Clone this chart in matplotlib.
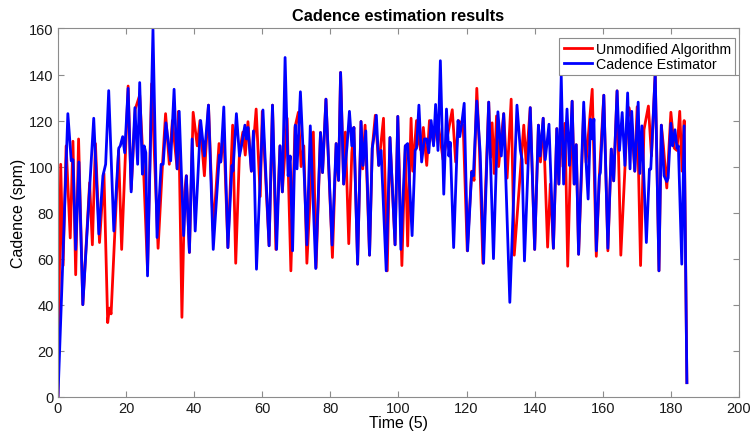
import matplotlib
matplotlib.use('Agg')
from matplotlib import pyplot as plt

plt.rcParams['font.family'] = ['Liberation Sans', 'DejaVu Sans']

# Cadence estimator (blue)
t_est = [0, 1.3, 2.9, 3.9, 4.4, 5.2, 6.15, 7.3, 10.5, 12.0, 13.2, 14.0, 14.9, 16.4, 17.85,
         18.3, 19.0, 19.6, 20.6, 21.5, 22.6, 23.4, 24.0, 24.8, 25.3, 25.8, 26.3, 27.9, 29.1,
         30.3, 30.9, 31.7, 33.1, 34.1, 35.0, 35.6, 36.9, 37.7, 38.6, 39.4, 40.3, 41.9, 43.0,
         44.2, 45.6, 47.4, 47.8, 48.7, 49.9, 51.1, 51.4, 52.4, 53.3, 53.9, 54.9, 55.3, 55.8,
         56.8, 57.4, 58.3, 60.2, 62.0, 63.0, 64.2, 65.2, 65.9, 66.7, 67.6, 68.2, 68.9, 69.7,
         70.2, 71.2, 72.4, 73.1, 74.1, 75.7, 77.1, 77.7, 78.7, 80.5, 81.7, 82.4, 83.0, 83.9,
         84.9, 85.6, 86.3, 86.9, 88.0, 89.0, 89.6, 90.4, 91.5, 92.3, 92.9, 93.5, 94.2, 94.9,
         96.4, 97.5, 99.0, 99.8, 100.7, 102.0, 102.7, 104.0, 104.9, 105.3, 106.0, 106.8, 107.6,
         108.3, 108.9, 109.6, 110.3, 110.9, 111.6, 112.3, 113.3, 114.1, 114.8, 115.2, 116.2,
         117.5, 118.0, 118.6, 119.3, 120.3, 121.5, 122.0, 123.0, 124.0, 125.0, 126.5, 127.9,
         129.2, 130.2, 130.9, 132.7, 134.8, 135.8, 136.3, 137.0, 138.7, 140.0, 141.1, 141.6,
         142.5, 143.1, 144.2, 145.5, 146.5, 147.1, 147.8, 148.5, 149.5, 150.2, 151.0, 151.6,
         152.2, 152.9, 154.4, 155.1, 155.7, 156.4, 156.9, 157.4, 158.1, 159.0, 159.3, 160.3,
         161.5, 162.5, 163.2, 164.2, 164.9, 165.7, 166.5, 167.3, 168.0, 168.5, 169.4, 170.4,
         170.9, 171.5, 172.8, 173.7, 174.1, 175.4, 176.5, 177.2, 178.0, 178.8, 179.2, 180.0,
         180.5, 181.2, 181.8, 182.2, 183.2, 183.9, 184.7]
v_est = [0, 54, 123, 102.5, 103, 64, 102, 40, 121, 70.7, 96, 101, 133, 72, 108,
         109, 113, 106, 134, 89, 125.6, 101, 136.5, 96.7, 109, 106, 52.5, 159.6, 69.2,
         101, 101, 119, 102.5, 133.6, 99, 124, 70, 96, 62.7, 112, 72, 120, 104.6,
         126.7, 64, 105, 102, 125.9, 64.8, 100.5, 98, 123, 104.6, 109, 118, 112, 117,
         98, 115.5, 55.4, 124.6, 65.6, 126.7, 64, 109, 89, 147.4, 96, 104.6, 63.4, 118,
         99, 132.5, 93.5, 66, 117.7, 55.7, 114.8, 97.4, 129.3, 65.9, 110, 94, 140.9, 92.4,
         109, 124, 109, 117, 57.6, 119.6, 100.5, 115.5, 61.5, 108, 114, 122.3, 100.5, 107,
         54.7, 112.6, 66, 121.8, 64, 109, 110, 70, 107, 108, 126.7, 102, 112,
         112, 106, 120, 109, 127, 107, 146, 88, 125, 104.6, 110.5, 64.8,
         120, 113, 119, 127.5, 63.4, 97.7, 96, 128.5, 106, 58, 128, 60,
         123.8, 104.6, 123, 41, 126.7, 107, 103, 59, 125.6, 64, 118, 104.6,
         121, 103, 118.4, 64.5, 116.5, 92.4, 139.4, 92.4, 125, 100.5, 128.4, 92.4,
         109.5, 61.9, 128, 101.8, 85.9, 120.6, 112, 120.6, 63.4, 96, 97.4, 131,
         64.5, 107.6, 93.8, 132.9, 107, 123.5, 100.5, 132, 99, 124, 98, 128,
         97, 117.7, 67, 98.9, 98.9, 140.6, 54.7, 118, 96, 93.5, 95, 118.8,
         109, 116, 108, 109, 57.6, 117.7, 6.1]

# Unmodified algorithm (red)
t_unm = [0, 0.8, 1.5, 2.4, 3.6, 4.4, 5.2, 6.05, 7.3, 9.3, 10.1, 11.0, 12.2, 13.5, 14.6,
         15.1, 15.6, 17.8, 18.7, 20.6, 21.5, 22.7, 24.0, 25.1, 26.3, 27.5, 29.4, 30.7, 31.6,
         32.7, 33.6, 35.0, 35.4, 36.4, 37.2, 37.7, 38.6, 39.7, 40.9, 41.7, 43.0, 44.2, 45.6,
         47.3, 47.8, 48.7, 49.9, 51.3, 52.2, 53.3, 54.3, 55.0, 55.8, 56.8, 58.2, 59.4, 60.0,
         62.0, 63.0, 64.0, 65.2, 65.9, 67.3, 67.7, 68.4, 69.6, 70.6, 71.4, 72.2, 73.1, 75.0,
         75.8, 77.1, 77.7, 78.7, 80.6, 81.7, 82.4, 83.0, 83.9, 84.4, 85.4, 86.3, 86.9, 88.0,
         89.0, 89.5, 90.2, 91.5, 92.3, 93.2, 94.2, 95.6, 96.7, 97.5, 99.0, 99.8, 101.0, 102.0,
         102.7, 103.7, 104.2, 105.3, 106.1, 106.6, 107.3, 108.3, 109.1, 110.3, 111.1, 111.8,
         113.1, 115.8, 116.8, 117.6, 119.0, 120.2, 121.5, 122.2, 123.0, 123.8, 124.8, 126.5,
         127.0, 127.5, 128.1, 128.8, 129.4, 130.9, 131.9, 133.1, 134.0, 136.8, 137.5, 138.7,
         140.0, 141.1, 141.7, 142.5, 143.8, 144.6, 145.5, 146.5, 147.1, 147.8, 148.3, 148.9,
         149.7, 151.0, 151.6, 152.2, 152.9, 154.4, 155.1, 156.9, 158.1, 159.0, 160.3, 161.5,
         162.5, 163.2, 164.2, 165.3, 167.2, 167.7, 168.4, 169.4, 170.1, 171.1, 172.1, 173.4,
         174.3, 175.4, 176.5, 177.2, 177.8, 178.8, 180.0, 181.0, 181.8, 182.6, 183.3, 183.9,
         184.7]
v_unm = [0, 101, 57, 109, 69, 111, 53, 112, 40, 93, 66, 110, 67, 97, 32.2,
         38.5, 36, 107, 64, 135, 90, 125, 131, 100, 55, 136, 64.5, 101, 123,
         101, 120, 99, 124, 34.5, 89, 96, 62.7, 123.6, 109, 120, 96, 126.7, 72,
         110, 102, 115, 64.8, 118, 58, 106, 115, 105, 119.5, 98, 125, 87, 124,
         65.6, 126.7, 64, 109, 89, 121, 94, 54.7, 117, 123.6, 100, 109, 58, 115,
         56, 114.8, 97.4, 129.3, 60.5, 110, 94, 140.9, 92.4, 115, 66.5, 106, 117, 57.6,
         119.6, 99, 118, 61.5, 108, 122.3, 100.5, 121, 54.7, 112.6, 66, 121.8, 57, 109,
         65.5, 121, 98, 120, 110, 107, 117, 100.5, 120, 110, 120, 117,
         103, 124.7, 102, 120, 118, 63.4, 98, 94, 134, 107, 58, 128,
         104, 119, 97, 122, 100, 123, 95, 129.3, 61.5, 118, 101.5, 125.6,
         64, 118, 102, 121, 65, 92.4, 64.5, 116.5, 92.4, 125, 100, 118.8,
         56.7, 128.4, 92.4, 109.5, 61.9, 124, 101.8, 133.6, 61, 96, 131, 63.4,
         107.6, 93.8, 132.9, 61.5, 120.6, 125.6, 120.6, 98, 126, 57, 116, 126.3,
         104.6, 140.6, 54.7, 118, 109, 90.7, 123.6, 108, 107, 124, 98, 120,
         6.1]

fig = plt.figure(figsize=(7.5, 4.35), dpi=100)
ax = fig.add_axes([0.0773, 0.0857, 0.908, 0.8465])

ax.plot(t_unm, v_unm, color='#ff0000', linewidth=2.0, label='Unmodified Algorithm',
        solid_joinstyle='round')
ax.plot(t_est, v_est, color='#0000ff', linewidth=2.0, label='Cadence Estimator',
        solid_joinstyle='round')

ax.set_xlim(0, 200)
ax.set_ylim(0, 160)
ax.set_xticks(range(0, 201, 20))
ax.set_yticks(range(0, 161, 20))

for s in ax.spines.values():
    s.set_color('#8c8c8c')
    s.set_linewidth(0.8)
ax.tick_params(direction='in', length=4, width=0.8, color='#8c8c8c',
               labelcolor='#1a1a1a', labelsize=10.5, top=True, right=True, pad=3)

ax.set_title('Cadence estimation results', fontsize=11.8, fontweight='bold', pad=6)
ax.set_xlabel('Time (5)', fontsize=11.5, labelpad=0)
ax.set_ylabel('Cadence (spm)', fontsize=11.5, labelpad=2)

leg = ax.legend(loc='upper right', bbox_to_anchor=(0.9941, 0.974), borderaxespad=0,
                fontsize=10.2, fancybox=False, framealpha=1, handlelength=2.0,
                handletextpad=0.25, borderpad=0.3, labelspacing=0.05)
leg.get_frame().set_edgecolor('#8c8c8c')
leg.get_frame().set_linewidth(0.8)

fig.savefig('out.png', dpi=100)
